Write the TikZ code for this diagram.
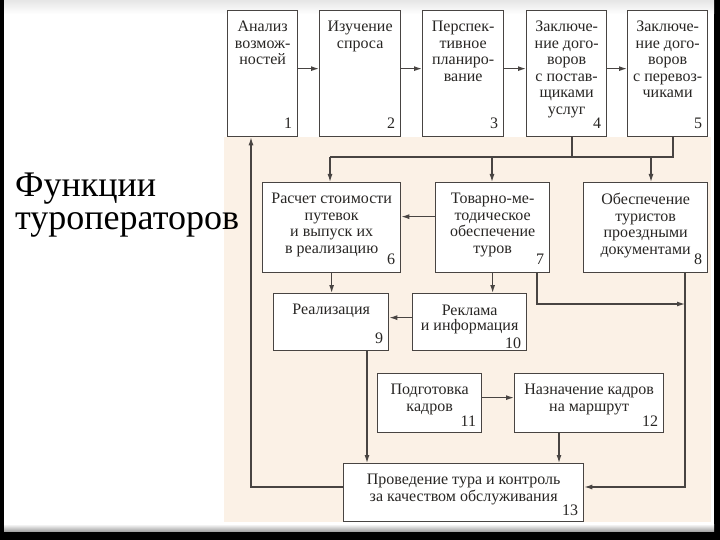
\documentclass[tikz,border=0pt]{standalone}
\usepackage{fontspec}
\setmainfont{Liberation Serif}
\usetikzlibrary{arrows.meta}
\definecolor{beige}{RGB}{251,241,230}
\definecolor{linec}{RGB}{72,68,66}
\definecolor{textc}{RGB}{40,38,36}
\newcommand\mkbox[9]{%
  \node[boxst,anchor=north west,minimum width={#4-#2},minimum height={#5-#3}] (#1) at (#2,#3) {};
  \node[btext,anchor=north] (#1t) at ([yshift={-11-#8}]#1.north) {#6};
  \node[bnum,anchor=base east] (#1n) at ([xshift=-6pt,yshift=#9]#1.south east) {#7};
}
\begin{document}
\begin{tikzpicture}[x=1pt,y=-1pt,
  boxst/.style={draw=linec,line width=1.3pt,fill=white,inner sep=0pt},
  btext/.style={align=center,text=textc,inner sep=0pt,font=\fontsize{16}{16.5}\selectfont},
  bnum/.style={text=textc,inner sep=0pt,font=\fontsize{16}{16}\selectfont},
  conn/.style={draw=linec,line width=1.2pt},
  arr/.style={conn,-{Latex[length=8pt,width=5pt]}},
  title/.style={anchor=north west,align=left,inner sep=0pt,font=\fontsize{36}{33}\selectfont}]
% slide background
\useasboundingbox (0,0) rectangle (720,540);
\fill[black] (0,0) rectangle (720,540);
\fill[white] (4,0) rectangle (714,526);
\shade[top color=gray!20,bottom color=white] (4,0) rectangle (714,14);
\shade[top color=white,bottom color=gray!70] (4,524) rectangle (714,531);
\fill[beige] (224,137) rectangle (711,522);
% title
\node[title] (ttl) at (15,173) {Функции\\туроператоров};
% boxes
\mkbox{b1}{227}{10}{297}{136}{Анализ\\возмож-\\ностей}{1}{0}{8.5pt}
\mkbox{b2}{319}{10}{400}{136}{Изучение\\спроса}{2}{0}{8.5pt}
\mkbox{b3}{422}{10}{503}{136}{Перспек-\\тивное\\планиро-\\вание}{3}{0}{8.5pt}
\mkbox{b4}{526}{10}{606}{136}{Заключе-\\ние дого-\\воров\\с постав-\\щиками\\услуг}{4}{0}{8.5pt}
\mkbox{b5}{627}{10}{707}{136}{Заключе-\\ние дого-\\воров\\с перевоз-\\чиками}{5}{0}{8.5pt}
\mkbox{b6}{262}{182}{400}{272}{Расчет стоимости\\путевок\\и выпуск их\\в реализацию}{6}{0}{8.5pt}
\mkbox{b7}{435}{182}{549}{272}{Товарно-ме-\\тодическое\\обеспечение\\туров}{7}{0}{8.5pt}
\mkbox{b8}{583}{182}{707}{272}{Обеспечение\\туристов\\проездными\\документами}{8}{0}{8.5pt}
\mkbox{b9}{273}{293}{388}{350}{Реализация}{9}{0}{8pt}
\mkbox{b10}{412}{293}{526}{350}{Реклама\\[-1.5pt]и информация}{10}{1}{3pt}
\mkbox{b11}{377}{373}{481}{432}{Подготовка\\кадров}{11}{0}{7pt}
\mkbox{b12}{514}{373}{663}{432}{Назначение кадров\\на маршрут}{12}{0}{7pt}
\mkbox{b13}{343}{463}{583}{521}{Проведение тура и контроль\\за качеством обслуживания}{13}{0}{7pt}
% helper coordinates
\coordinate (bus4) at (572,157);
\coordinate (bus5) at (673,157);
\coordinate (bus6) at (330,157);
\coordinate (bus7) at (492,157);
\coordinate (bus8) at (651,157);
\coordinate (j7) at (537,304);
\coordinate (j8) at (685,304);
\coordinate (rr) at (685,487);
\coordinate (ll) at (251,487);
\coordinate (x9) at (367,0);
\coordinate (x12) at (559,0);
% top row arrows
\draw[arr] ([yshift=5pt]b1.east) -- ([yshift=5pt]b2.west);
\draw[arr] ([yshift=5pt]b2.east) -- ([yshift=5pt]b3.west);
\draw[arr] ([yshift=5pt]b3.east) -- ([yshift=5pt]b4.west);
\draw[arr] ([yshift=5pt]b4.east) -- ([yshift=5pt]b5.west);
% bus
\draw[conn] (b4.south -| bus4) -- (bus4);
\draw[conn] (b5.south -| bus5) -- (bus5) -- (bus6);
\draw[arr] (bus6) -- (bus6 |- b6.north);
\draw[arr] (bus7) -- (bus7 |- b7.north);
\draw[arr] (bus8) -- (bus8 |- b8.north);
% middle
\draw[arr] ([yshift=11pt]b7.west) -- ([yshift=11pt]b6.east);
\draw[arr] (b6.south) -- (b6.south |- b9.north);
\draw[arr] (b7.south) -- (b7.south |- b10.north);
\draw[arr] ([yshift=4.5pt]b10.west) -- ([yshift=4.5pt]b9.east);
\draw[arr] (b7.south -| j7) -- (j7) -- (j8);
\draw[arr] (b8.south -| j8) -- (rr) -- (rr -| b13.east);
\draw[arr] ([yshift=5.5pt]b11.east) -- ([yshift=5.5pt]b12.west);
\draw[arr] (b9.south -| x9) -- (x9 |- b13.north);
\draw[arr] (b12.south -| x12) -- (x12 |- b13.north);
\draw[arr] (ll -| b13.west) -- (ll) -- (ll |- b1.south);
\end{tikzpicture}
\end{document}
